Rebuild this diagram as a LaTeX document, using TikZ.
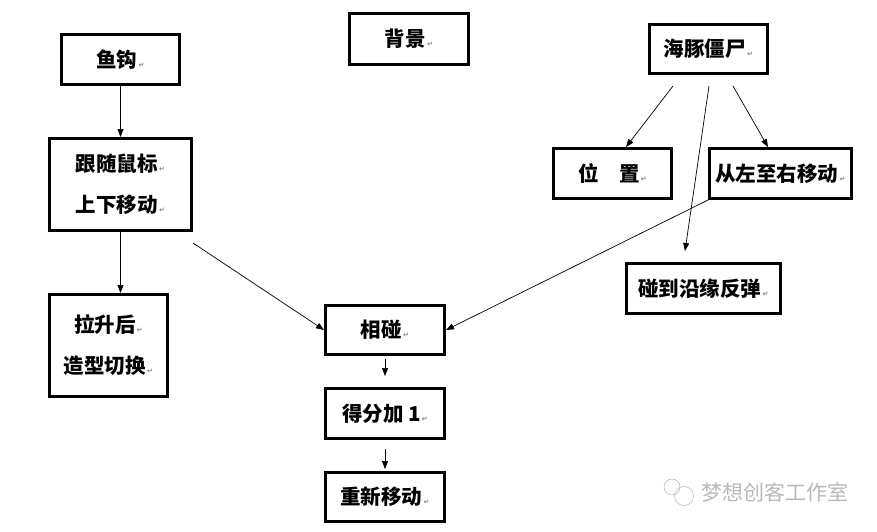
\documentclass[tikz,border=0pt]{standalone}
\usepackage{fontspec}
\newfontfamily\cjk{Noto Sans CJK SC}
\newfontfamily\dejavu{DejaVu Sans}
\usetikzlibrary{arrows.meta}
\newcommand{\parmk}{{\dejavu\fontsize{7}{8}\selectfont\color{gray}\,↵}}
\tikzset{
  box/.style={draw, line width=2.6pt, rectangle, inner sep=0pt, align=center,
    font=\cjk\bfseries\fontsize{20.5}{41}\selectfont},
  arr/.style={-{Triangle[length=8pt,width=6pt]}, line width=0.7pt},
}
\begin{document}
\begin{tikzpicture}[x=1pt,y=-1pt]
\useasboundingbox (0,0) rectangle (877,531);
% boxes
\node[box, minimum width=118.4pt, minimum height=50.4pt] (gou) at (120.5,59.5) {鱼钩\parmk};
\node[box, minimum width=142.4pt, minimum height=92.4pt] (gen) at (120.5,184.5) {跟随鼠标\parmk\\上下移动\parmk};
\node[box, minimum width=118.4pt, minimum height=102.4pt] (la) at (108.5,345.5) {拉升后\parmk\\造型切换\parmk};
\node[box, minimum width=119.4pt, minimum height=49.4pt] (xp) at (385,330) {相碰\parmk};
\node[box, minimum width=119.4pt, minimum height=50.4pt] (df) at (385,413.5) {得分加 1\parmk};
\node[box, minimum width=119.4pt, minimum height=49.4pt] (cx) at (385,497) {重新移动\parmk};
\node[box, minimum width=119.4pt, minimum height=51.4pt] (bj) at (409,39) {背景\parmk};
\node[box, minimum width=118.4pt, minimum height=49.4pt] (ht) at (708.5,49) {海豚僵尸\parmk};
\node[box, minimum width=118.4pt, minimum height=50.4pt] (wz) at (612.5,173.5) {位\hspace{1em}置\parmk};
\node[box, minimum width=142.4pt, minimum height=50.4pt] (zy) at (780.5,173.5) {从左至右移动\parmk};
\node[box, minimum width=154.4pt, minimum height=50.4pt] (pd) at (703.5,288.5) {碰到沿缘反弹\parmk};
% free ends
\coordinate (g1) at (193,243);
\coordinate (x1) at (385,359);
\coordinate (x2) at (385,376);
\coordinate (d1) at (385,449);
\coordinate (d2) at (385,469);
\coordinate (h1) at (673,86);
\coordinate (h2) at (709,86);
\coordinate (h3) at (733,86);
\coordinate (p1) at (685,251);
\coordinate (w1) at (626,147);
\coordinate (z1) at (768,147);
% arrows
\draw[arr] (gou.south) -- (gen.north);
\draw[arr] (gen.south) -- (gen.south |- la.north);
\draw[arr] (g1) -- (xp.west);
\draw[arr] (zy.south west) -- (xp.east);
\draw[arr] (x1) -- (x2);
\draw[arr] (d1) -- (d2);
\draw[arr] (h1) -- (w1);
\draw[arr] (h3) -- (z1);
\draw[arr] (h2) -- (p1);
% watermark
\node[gray!55, font=\cjk\fontsize{21}{22}\selectfont, anchor=west] (wm) at (698,492) {梦想创客工作室};
\draw[gray!55, line width=0.6pt] (672,487) circle (8pt);
\draw[gray!55, line width=0.6pt] (684,496) circle (9.5pt);
\end{tikzpicture}
\end{document}
